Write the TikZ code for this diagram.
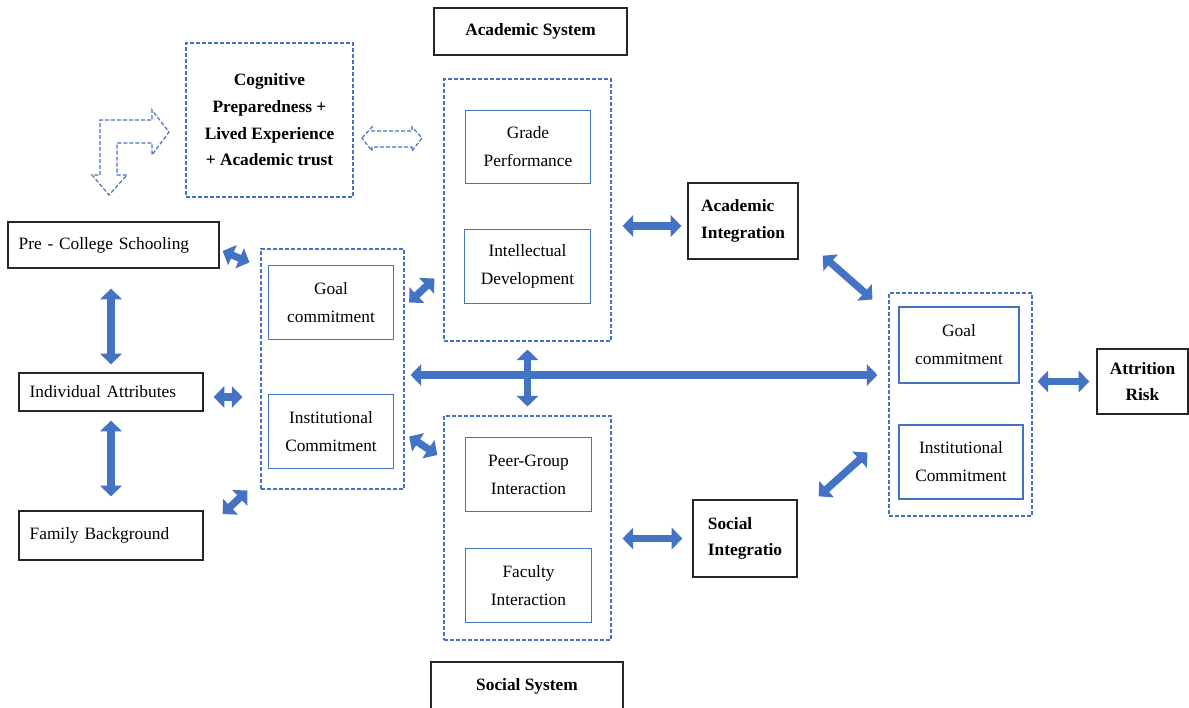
\documentclass[tikz,border=0pt]{standalone}
\usepackage{fontspec}
\setmainfont{Liberation Serif}
\usepackage{xcolor}
\usetikzlibrary{positioning, arrows.meta}
\definecolor{linkblue}{HTML}{4472C4}

\begin{document}
\begin{tikzpicture}[
    x=0.75pt, y=-0.75pt,
    every node/.style={align=center, font=\fontsize{13}{21}\selectfont},
    blackbox/.style={draw=black!85, line width=1pt},
    leftbox/.style={blackbox, align=left, inner xsep=8pt, text width=#1},
    bluebox/.style={draw=linkblue, line width=0.8pt, minimum width=94pt, minimum height=55pt},
    dashbox/.style={draw=linkblue, line width=0.8pt, dash pattern=on 3pt off 1.5pt},
    hint/.style={draw=linkblue, line width=0.9pt, dash pattern=on 3pt off 1.5pt},
    heading/.style={font=\fontsize{13}{20}\selectfont\bfseries},
    link/.style={linkblue, line width=5.5pt, {Triangle[length=8pt,width=16pt]}-{Triangle[length=8pt,width=16pt]}}
  ]
    \useasboundingbox (0,0) rectangle (1189,707);

    \node[blackbox, heading, minimum width=144.75pt, minimum height=35.25pt] (acsys) at (530.5,31.5) {Academic System};
    \node[blackbox, heading, minimum width=144pt, minimum height=36pt] (socsys) at (527,686) {Social System};

    \node[dashbox, heading, minimum width=125.25pt, minimum height=115.5pt] (cog) at (269.5,120) {Cognitive\\Preparedness +\\Lived Experience\\+ Academic trust};

    \node[leftbox=142.25pt, minimum height=34.5pt] (pre) at (113.5,245) {Pre - College Schooling};
    \node[leftbox=122pt, minimum height=28.5pt] (indiv) at (111,392) {Individual Attributes};
    \node[leftbox=122pt, minimum height=36.75pt] (family) at (111,535.5) {Family Background};

    \node[dashbox, minimum width=107.25pt, minimum height=180pt] (leftc) at (332.5,369) {};
    \node[bluebox] (goalL) at (331,302.5) {Goal\\commitment};
    \node[bluebox] (instL) at (331,431.5) {Institutional\\Commitment};

    \node[dashbox, minimum width=125.25pt, minimum height=196.5pt] (acadc) at (527.5,210) {};
    \node[bluebox] (grade) at (528,147) {Grade\\Performance};
    \node[bluebox] (intel) at (527.5,266.5) {Intellectual\\Development};

    \node[dashbox, minimum width=125.25pt, minimum height=168pt] (socc) at (527.5,528) {};
    \node[bluebox] (peer) at (528.5,474.5) {Peer-Group\\Interaction};
    \node[bluebox] (faculty) at (528.5,585.5) {Faculty\\Interaction};

    \node[blackbox, heading, align=left, minimum width=82.5pt, minimum height=57pt] (acint) at (743,221) {Academic\\Integration};
    \node[blackbox, heading, align=left, minimum width=78pt, minimum height=57.75pt] (socint) at (745,538.5) {Social\\Integratio};

    \node[dashbox, minimum width=107.25pt, minimum height=167.25pt] (rightc) at (960.5,404.5) {};
    \node[bluebox, minimum width=90pt, minimum height=57pt] (goalR) at (959,345) {Goal\\commitment};
    \node[bluebox, minimum width=93pt, minimum height=55.5pt] (instR) at (961,462) {Institutional\\Commitment};

    \node[blackbox, heading, minimum width=68.25pt, minimum height=48.75pt] (attr) at (1142.5,381.5) {Attrition\\Risk};

    \draw[hint] (100,175) -- (100,120) -- (152,120) -- (152,110) -- (169,132) -- (152,155) -- (152,143)
      -- (117,143) -- (117,175) -- (127,175) -- (109,195) -- (92,175) -- cycle;
    \draw[hint] (362,138) -- (372,127) -- (372,131) -- (412,131) -- (412,127) -- (422,138)
      -- (412,151) -- (412,147) -- (372,147) -- (372,151) -- cycle;

    \draw[link] ([shift={(3,6)}]pre.east) -- ([shift={(-11,14)}]leftc.north west);
    \draw[link] ([shift={(10,5)}]indiv.east) -- ([shift={(-18,5)}]indiv.east -| leftc.west);
    \draw[link] ([shift={(19,-21.5)}]family.east) -- ([shift={(-13,1)}]leftc.south west);
    \draw[link] ([shift={(0,20)}]pre.south -| indiv.north) -- ([shift={(0,-8)}]indiv.north);
    \draw[link] ([shift={(0,9)}]indiv.south) -- ([shift={(0,-14)}]family.north);
    \draw[link] ([shift={(15,0)}]goalL.east) -- ([shift={(-30,12)}]intel.west);
    \draw[link] ([shift={(15,5)}]instL.east) -- ([shift={(-28,-19.5)}]peer.west);
    \draw[link] ([shift={(6,6)}]leftc.east) -- ([shift={(-11,-29.5)}]rightc.west);
    \draw[link] ([shift={(0,8)}]acadc.south) -- ([shift={(0,-9)}]socc.north);
    \draw[link] ([shift={(11,16)}]acadc.east) -- ([shift={(-6,5)}]acint.west);
    \draw[link] ([shift={(11,10.5)}]socc.east) -- ([shift={(-10,0)}]socint.west);
    \draw[link] ([shift={(24,-4)}]acint.south east) -- ([shift={(-16,7)}]rightc.north west);
    \draw[link] ([shift={(-21,-64)}]rightc.south west) -- ([shift={(21,-3)}]socint.north east);
    \draw[link] ([shift={(5,0)}]rightc.east |- attr.west) -- ([shift={(-7,0)}]attr.west);
  \end{tikzpicture}
\end{document}
